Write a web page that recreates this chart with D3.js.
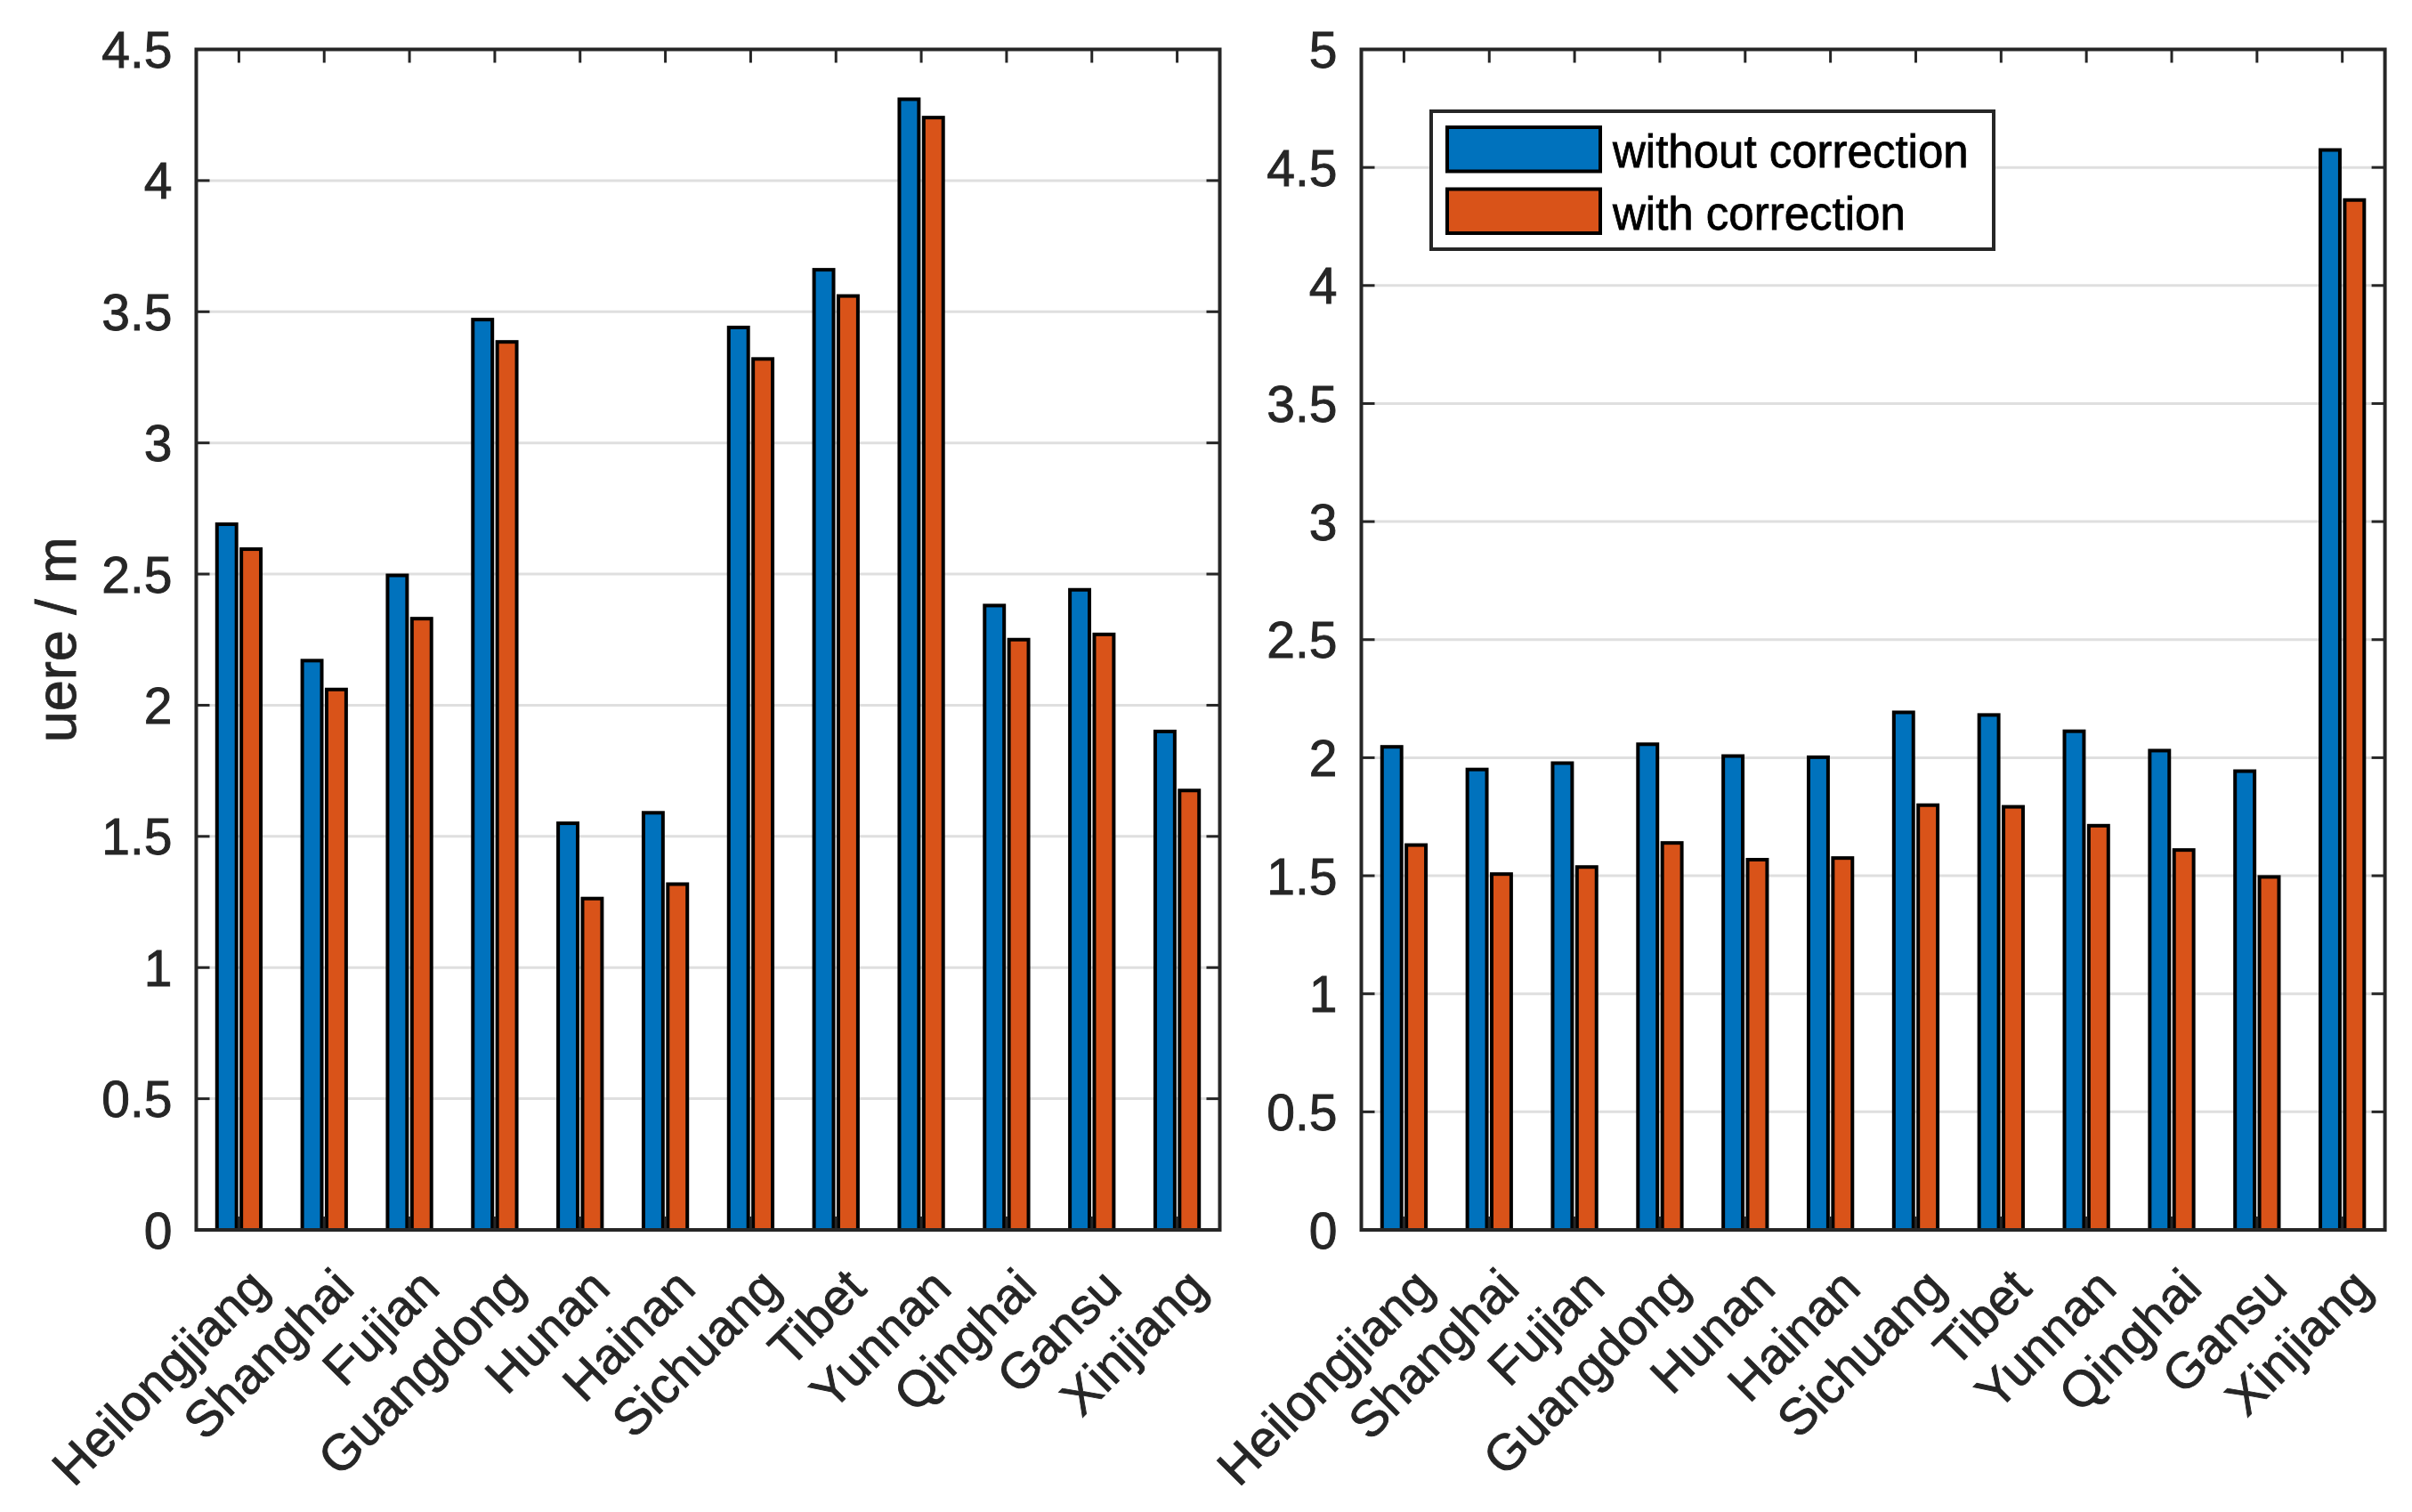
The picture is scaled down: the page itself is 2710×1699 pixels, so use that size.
<!DOCTYPE html>
<html>
<head>
<meta charset="utf-8">
<script src="https://cdn.jsdelivr.net/npm/d3@7"></script>
<style>
  body { margin: 0; background: #fff; }
  text { font-family: "Liberation Sans", Arial, Helvetica, sans-serif; }
</style>
</head>
<body>
<div id="chart-area"></div>
<script>
var categories = ["Heilongjiang", "Shanghai", "Fujian", "Guangdong", "Hunan", "Hainan",
                  "Sichuang", "Tibet", "Yunnan", "Qinghai", "Gansu", "Xinjiang"];
var seriesNames = ["without correction", "with correction"];

// left panel
var leftWithout = [2.69, 2.17, 2.495, 3.47, 1.55, 1.59, 3.44, 3.66, 4.31, 2.38, 2.44, 1.90];
var leftWith    = [2.595, 2.06, 2.33, 3.385, 1.263, 1.318, 3.32, 3.56, 4.24, 2.25, 2.27, 1.675];
// right panel
var rightWithout = [2.046, 1.950, 1.977, 2.057, 2.007, 2.002, 2.192, 2.181, 2.112, 2.030, 1.943, 4.574];
var rightWith    = [1.630, 1.507, 1.537, 1.639, 1.568, 1.575, 1.799, 1.792, 1.712, 1.609, 1.495, 4.362];

var leftTicks = [0, 0.5, 1, 1.5, 2, 2.5, 3, 3.5, 4, 4.5];
var rightTicks = [0, 0.5, 1, 1.5, 2, 2.5, 3, 3.5, 4, 4.5, 5];

var width = 2710;
var height = 1699;
var colors = ["#0072BD", "#D95319"];
var axisColor = "#262626";
var top0 = 55.5, bottom0 = 1382;
var tickLen = 15;

var svg = d3.select("#chart-area")
  .append("svg")
    .attr("width", width)
    .attr("height", height);

function panel(x0, x1, ymax, ticks, s1, s2, yLabel) {
  var g = svg.append("g");
  var x = d3.scaleLinear().domain([0.5, categories.length + 0.5]).range([x0, x1]);
  var y = d3.scaleLinear().domain([0, ymax]).range([bottom0, top0]);
  var barW = 0.2286;
  var offs = [-0.1428, 0.1428];

  // grid
  g.selectAll(".grid").data(ticks.filter(function(d) { return d > 0 && d < ymax; }))
    .enter().append("line")
      .attr("x1", x0).attr("x2", x1)
      .attr("y1", function(d) { return y(d); })
      .attr("y2", function(d) { return y(d); })
      .attr("stroke", "#dfdfdf")
      .attr("stroke-width", 3);

  // bars
  [s1, s2].forEach(function(vals, k) {
    g.selectAll(".bar" + k).data(vals)
      .enter().append("rect")
        .attr("x", function(d, i) { return x(i + 1 + offs[k] - barW / 2); })
        .attr("width", x(barW) - x(0))
        .attr("y", function(d) { return y(d); })
        .attr("height", function(d) { return y(0) - y(d); })
        .attr("fill", colors[k])
        .attr("stroke", "#000")
        .attr("stroke-width", 4);
  });

  // x ticks top & bottom (inside)
  var xt = d3.range(1, categories.length + 1);
  g.selectAll(".xtb").data(xt).enter().append("line")
    .attr("x1", function(d) { return x(d); }).attr("x2", function(d) { return x(d); })
    .attr("y1", bottom0).attr("y2", bottom0 - tickLen)
    .attr("stroke", axisColor).attr("stroke-width", 3);
  g.selectAll(".xtt").data(xt).enter().append("line")
    .attr("x1", function(d) { return x(d); }).attr("x2", function(d) { return x(d); })
    .attr("y1", top0).attr("y2", top0 + tickLen)
    .attr("stroke", axisColor).attr("stroke-width", 3);

  // y ticks left & right
  g.selectAll(".ytl").data(ticks).enter().append("line")
    .attr("x1", x0).attr("x2", x0 + tickLen)
    .attr("y1", function(d) { return y(d); }).attr("y2", function(d) { return y(d); })
    .attr("stroke", axisColor).attr("stroke-width", 3);
  g.selectAll(".ytr").data(ticks).enter().append("line")
    .attr("x1", x1).attr("x2", x1 - tickLen)
    .attr("y1", function(d) { return y(d); }).attr("y2", function(d) { return y(d); })
    .attr("stroke", axisColor).attr("stroke-width", 3);

  // box
  g.append("rect")
    .attr("x", x0).attr("y", top0)
    .attr("width", x1 - x0).attr("height", bottom0 - top0)
    .attr("fill", "none")
    .attr("stroke", axisColor)
    .attr("stroke-width", 4);

  // y tick labels
  g.selectAll(".ylab").data(ticks).enter().append("text")
    .attr("x", x0 - 27)
    .attr("y", function(d) { return y(d); })
    .attr("dy", "0.36em")
    .attr("text-anchor", "end")
    .attr("font-size", "57px")
    .attr("fill", axisColor)
    .attr("stroke", axisColor)
    .attr("stroke-width", 0.9)
    .text(function(d) { return String(d); });

  // x tick labels, rotated
  g.selectAll(".xlab").data(categories).enter().append("text")
    .attr("transform", function(d, i) { return "translate(" + x(i + 1) + "," + (bottom0 + 32) + ") rotate(-45)"; })
    .attr("dy", "0.9em")
    .attr("text-anchor", "end")
    .attr("font-size", "57px")
    .attr("fill", axisColor)
    .attr("stroke", axisColor)
    .attr("stroke-width", 0.9)
    .text(function(d) { return d; });

  if (yLabel) {
    g.append("text")
      .attr("transform", "translate(85," + ((top0 + bottom0) / 2) + ") rotate(-90)")
      .attr("text-anchor", "middle")
      .attr("font-size", "63px")
      .attr("fill", axisColor)
      .attr("stroke", axisColor)
      .attr("stroke-width", 0.9)
      .text(yLabel);
  }
  return g;
}

panel(220.5, 1370.5, 4.5, leftTicks, leftWithout, leftWith, "uere / m");
panel(1529.5, 2679.6, 5, rightTicks, rightWithout, rightWith, null);

// legend (right panel)
var lg = svg.append("g");
lg.append("rect")
  .attr("x", 1608).attr("y", 125).attr("width", 632).attr("height", 155)
  .attr("fill", "#fff").attr("stroke", axisColor).attr("stroke-width", 4);
seriesNames.forEach(function(name, k) {
  lg.append("rect")
    .attr("x", 1626).attr("y", 143 + k * 69.5)
    .attr("width", 172).attr("height", 49.5)
    .attr("fill", colors[k]).attr("stroke", "#000").attr("stroke-width", 4);
  lg.append("text")
    .attr("x", 1812).attr("y", 188 + k * 70)
    .attr("font-size", "51px")
    .attr("fill", "#000")
    .attr("stroke", "#000")
    .attr("stroke-width", 0.8)
    .text(name);
});
</script>
</body>
</html>
